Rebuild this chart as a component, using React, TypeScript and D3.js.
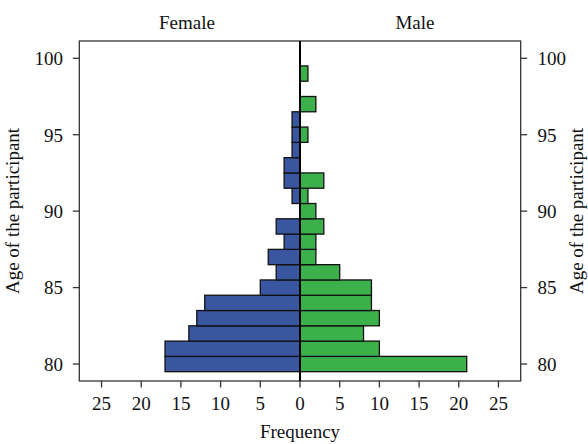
import React from 'react';
import * as d3 from 'd3';

// datos: frecuencia por edad
const ages = [80, 81, 82, 83, 84, 85, 86, 87, 88, 89, 90, 91, 92, 93, 94, 95, 96, 97, 98, 99];
const female = [17, 17, 14, 13, 12, 5, 3, 4, 2, 3, 0, 1, 2, 2, 1, 1, 1, 0, 0, 0];
const male = [21, 10, 8, 10, 9, 9, 5, 2, 2, 3, 2, 1, 3, 0, 0, 1, 0, 2, 0, 1];
const xTicks = [-25, -20, -15, -10, -5, 0, 5, 10, 15, 20, 25];
const yTicks = [80, 85, 90, 95, 100];

const W = 588;
const H = 444;
const plot = { left: 79.3, right: 520.7, top: 41, bottom: 381 };
const font = '"Liberation Serif", "DejaVu Serif", serif';
const fs = 19;
const blue = '#3a56a1';
const green = '#3bb04b';
const frame = '#333';

const x = d3.scaleLinear().domain([-27.8, 27.8]).range([plot.left, plot.right]);
const y = d3.scaleLinear().domain([78.89, 101.13]).range([plot.bottom, plot.top]);

const App = () => {
    const bars = ages.flatMap((age, i) => {
        const out = [];
        if (female[i] > 0) out.push({ key: 'f' + age, x0: x(-female[i]), x1: x(0), age, fill: blue });
        if (male[i] > 0) out.push({ key: 'm' + age, x0: x(0), x1: x(male[i]), age, fill: green });
        return out;
    });

    const midY = (plot.top + plot.bottom) / 2;

    return (
        <svg width={W} height={H} style={{ position: 'absolute', left: 0, top: 0, background: '#fff' }}
            fontFamily={font}>
            {/* titulos */}
            <text x={187} y={29} fontSize={fs} textAnchor="middle" fill="#111">Female</text>
            <text x={415} y={29} fontSize={fs} textAnchor="middle" fill="#111">Male</text>

            {/* barras */}
            {bars.map(b => (
                <rect key={b.key} x={b.x0} y={y(b.age + 0.5)} width={b.x1 - b.x0}
                    height={y(b.age - 0.5) - y(b.age + 0.5)}
                    fill={b.fill} stroke="#111" strokeWidth={1.3} />
            ))}

            {/* marco */}
            <rect x={plot.left} y={plot.top} width={plot.right - plot.left} height={plot.bottom - plot.top}
                fill="none" stroke={frame} strokeWidth={1.3} />
            <line x1={x(0)} x2={x(0)} y1={plot.top} y2={plot.bottom} stroke="#000" strokeWidth={2} />

            {/* eje x */}
            {xTicks.map(t => (
                <g key={'x' + t}>
                    <line x1={x(t)} x2={x(t)} y1={plot.bottom} y2={plot.bottom + 6.5} stroke={frame} strokeWidth={1.3} />
                    <text x={x(t)} y={410} fontSize={fs} textAnchor="middle" fill="#111">{Math.abs(t)}</text>
                </g>
            ))}
            <text x={300} y={438} fontSize={fs} textAnchor="middle" fill="#111">Frequency</text>

            {/* ejes y */}
            {yTicks.map(t => (
                <g key={'y' + t}>
                    <line x1={plot.left - 6.5} x2={plot.left} y1={y(t)} y2={y(t)} stroke={frame} strokeWidth={1.3} />
                    <line x1={plot.right} x2={plot.right + 6.5} y1={y(t)} y2={y(t)} stroke={frame} strokeWidth={1.3} />
                    <text x={63} y={y(t)} dy="0.36em" fontSize={fs} textAnchor="end" fill="#111">{t}</text>
                    <text x={537.5} y={y(t)} dy="0.36em" fontSize={fs} textAnchor="start" fill="#111">{t}</text>
                </g>
            ))}
            <text transform={`translate(19,${midY}) rotate(-90)`} fontSize={fs} textAnchor="middle" fill="#111">
                Age of the participant
            </text>
            <text transform={`translate(583,${midY}) rotate(-90)`} fontSize={fs} textAnchor="middle" fill="#111">
                Age of the participant
            </text>
        </svg>
    );
};

export default App;
